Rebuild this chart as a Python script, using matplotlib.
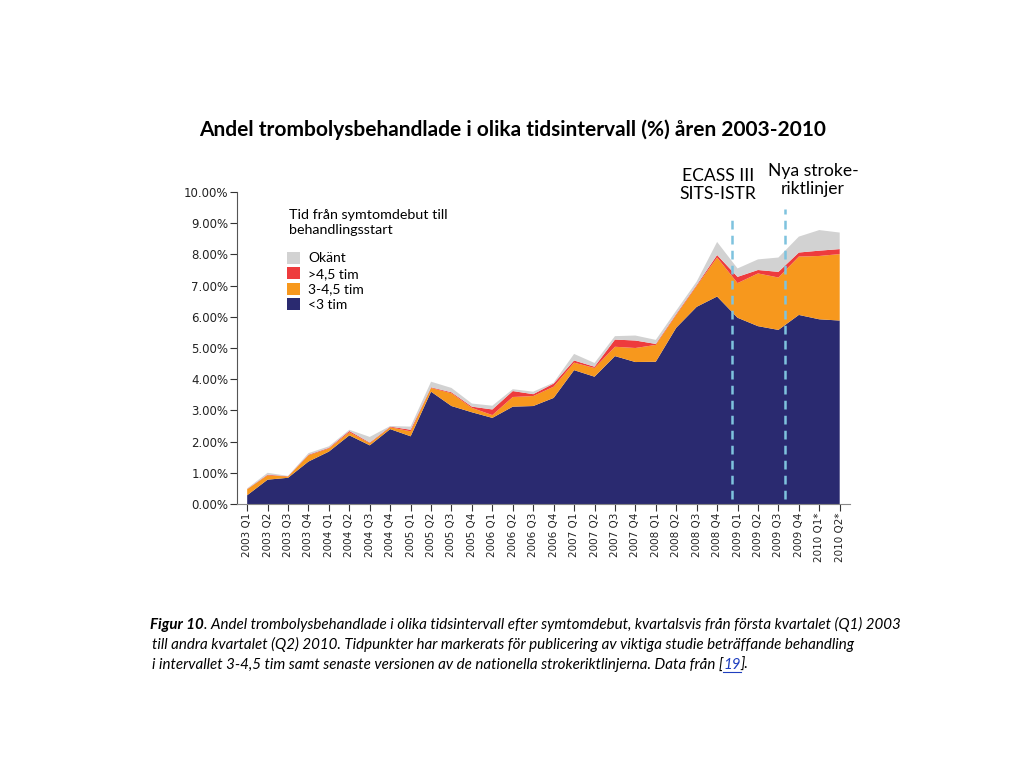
"""
Andel trombolysbehandlade per tidsintervall, kvartalsvis 2003-2010.
Stacked area chart with two publication markers.
"""

import matplotlib

matplotlib.use("Agg")
import matplotlib.pyplot as plt
from matplotlib.lines import Line2D
from matplotlib.patches import Patch
from matplotlib.ticker import FuncFormatter

quarters = [
    "2003 Q1", "2003 Q2", "2003 Q3", "2003 Q4",
    "2004 Q1", "2004 Q2", "2004 Q3", "2004 Q4",
    "2005 Q1", "2005 Q2", "2005 Q3", "2005 Q4",
    "2006 Q1", "2006 Q2", "2006 Q3", "2006 Q4",
    "2007 Q1", "2007 Q2", "2007 Q3", "2007 Q4",
    "2008 Q1", "2008 Q2", "2008 Q3", "2008 Q4",
    "2009 Q1", "2009 Q2", "2009 Q3", "2009 Q4",
    "2010 Q1*", "2010 Q2*",
]

# percent of patients, per quarter
under_3 = [0.28, 0.78, 0.84, 1.36, 1.68, 2.20, 1.88, 2.40, 2.17, 3.60,
           3.14, 2.94, 2.76, 3.12, 3.14, 3.40, 4.29, 4.08, 4.74, 4.55,
           4.56, 5.65, 6.32, 6.65, 5.97, 5.70, 5.58, 6.06, 5.92, 5.88]
h3_to_45 = [0.19, 0.14, 0.04, 0.20, 0.10, 0.10, 0.07, 0.06, 0.16, 0.12,
            0.41, 0.14, 0.09, 0.31, 0.32, 0.36, 0.24, 0.28, 0.30, 0.45,
            0.54, 0.41, 0.67, 1.25, 1.11, 1.69, 1.68, 1.87, 2.03, 2.13]
over_45 = [0.01, 0.02, 0.01, 0.02, 0.02, 0.04, 0.02, 0.02, 0.05, 0.02,
           0.03, 0.04, 0.18, 0.19, 0.06, 0.10, 0.07, 0.04, 0.23, 0.24,
           0.03, 0.03, 0.03, 0.08, 0.20, 0.11, 0.18, 0.13, 0.17, 0.16]
unknown = [0.02, 0.06, 0.01, 0.05, 0.05, 0.04, 0.18, 0.02, 0.10, 0.18,
           0.14, 0.10, 0.12, 0.06, 0.08, 0.03, 0.21, 0.12, 0.11, 0.16,
           0.13, 0.11, 0.11, 0.42, 0.27, 0.34, 0.46, 0.51, 0.66, 0.53]

series_labels = ["<3 tim", "3-4,5 tim", ">4,5 tim", "Okänt"]
colors = ["#2a2a70", "#f7981d", "#ee3b3d", "#d2d2d2"]

# event markers: fractional quarter index, label
event_pos = [23.75, 26.3]
event_labels = ["ECASS III\nSITS-ISTR", "Nya stroke-\nriktlinjer"]

TEXT_FONT = ["Lato", "DejaVu Sans"]
TICK_FONT = ["DejaVu Sans"]

fig = plt.figure(figsize=(10.24, 7.68), dpi=100)
ax = fig.add_axes([0.2314, 0.34375, 0.5986, 0.40625])

x = list(range(len(quarters)))
ax.stackplot(x, under_3, h3_to_45, over_45, unknown,
             colors=colors, linewidth=0)

# dashed markers, the second one starts a bit higher
for pos, top in zip(event_pos, [9.1, 9.45]):
    ax.plot([pos, pos], [0.15, top], color="#7ec3de", lw=1.8,
            linestyle=(0, (3.5, 2.5)), zorder=3)

ax.set_xlim(-0.5, 29.5)
ax.set_ylim(0, 10)
ax.set_yticks(range(0, 11))
ax.yaxis.set_major_formatter(FuncFormatter(lambda v, _: f"{v:.2f}%"))
ax.set_xticks(x)
ax.set_xticklabels(quarters, rotation=90)

for s in ["top", "right"]:
    ax.spines[s].set_visible(False)
ax.spines["left"].set_color("#555555")
ax.spines["bottom"].set_color("#888888")
ax.spines["left"].set_linewidth(0.8)
ax.spines["bottom"].set_linewidth(0.8)
ax.tick_params(axis="both", direction="out", length=5, width=0.8,
               color="#333333", pad=1, labelcolor="#222222")
ax.tick_params(axis="x", labelsize=7.5)
ax.tick_params(axis="y", labelsize=8.5)
for lab in ax.get_xticklabels() + ax.get_yticklabels():
    lab.set_family(TICK_FONT)

# legend, top-most layer first; title drawn separately
fig.text(289 / 1024, 1 - 209 / 768, "Tid från symtomdebut till\nbehandlingsstart",
         ha="left", va="top", fontsize=10.3, family=TEXT_FONT,
         linespacing=1.25)
handles = [Patch(facecolor=c, edgecolor="none") for c in colors[::-1]]
ax.legend(handles, series_labels[::-1],
          loc="upper left", bbox_to_anchor=(0.072, 0.827),
          frameon=False, handlelength=0.95, handleheight=0.95,
          handletextpad=0.6, labelspacing=0.2, borderaxespad=0,
          prop={"family": TEXT_FONT, "size": 10})

for (xp, yp), label in zip([(718, 185), (813, 180)], event_labels):
    fig.text(xp / 1024, 1 - yp / 768, label, ha="center", va="center",
             fontsize=12.6, family=TEXT_FONT, linespacing=1.15)

fig.text(0.501, 1 - 130 / 768,
         "Andel trombolysbehandlade i olika tidsintervall (%) åren 2003-2010",
         ha="center", va="center", fontsize=15, fontweight="bold",
         family=TEXT_FONT)

# caption
cap_y = [0.1805, 0.1545, 0.1285]
cap_kw = dict(fontsize=10.9, family=TEXT_FONT, style="italic")
t = fig.text(0.1465, cap_y[0], "Figur 10", fontweight="bold", va="baseline",
             **cap_kw)
ax.annotate(". Andel trombolysbehandlade i olika tidsintervall efter "
            "symtomdebut, kvartalsvis från första kvartalet (Q1) 2003",
            xy=(1, 0), xycoords=t, va="bottom", annotation_clip=False,
            **cap_kw)
fig.text(0.1485, cap_y[1],
         "till andra kvartalet (Q2) 2010. Tidpunkter har markerats för "
         "publicering av viktiga studie beträffande behandling",
         va="baseline", **cap_kw)
t3 = fig.text(0.1485, cap_y[2],
              "i intervallet 3-4,5 tim samt senaste versionen av de "
              "nationella strokeriktlinjerna. Data från [",
              va="baseline", **cap_kw)
t4 = ax.annotate("19", xy=(1, 0), xycoords=t3, va="bottom", color="#1f3fbf",
                 annotation_clip=False, **cap_kw)
ax.annotate("].", xy=(1, 0), xycoords=t4, va="bottom",
            annotation_clip=False, **cap_kw)

# underline the reference number
fig.canvas.draw()
bb = t4.get_window_extent().transformed(fig.transFigure.inverted())
uy = cap_y[2] - 0.004
fig.add_artist(Line2D([bb.x0, bb.x1], [uy, uy], color="#1f3fbf", lw=0.8))

fig.savefig("out.png", dpi=100)
